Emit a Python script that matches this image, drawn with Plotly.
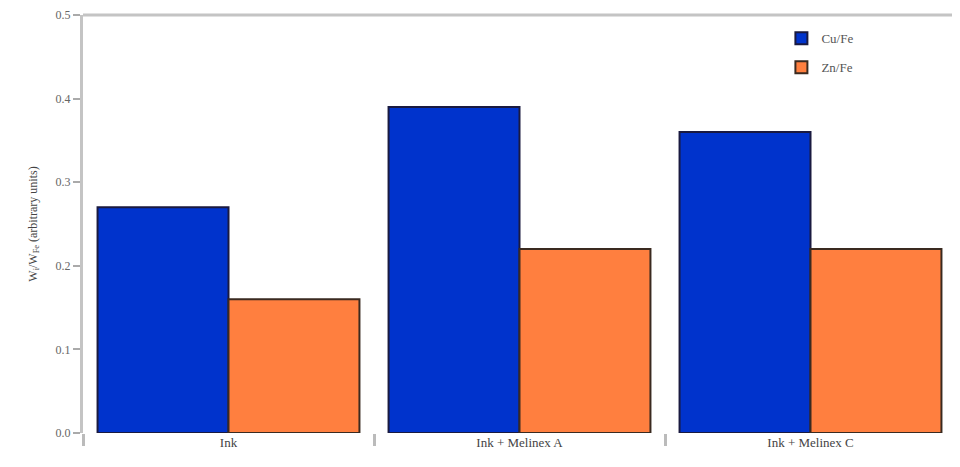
import plotly.graph_objects as go

categories = ["Ink", "Ink + Melinex A", "Ink + Melinex C"]
cu_fe = [0.27, 0.39, 0.36]
zn_fe = [0.16, 0.22, 0.22]
y_ticks = [0.0, 0.1, 0.2, 0.3, 0.4, 0.5]
y_tick_text = ["0.0", "0.1", "0.2", "0.3", "0.4", "0.5"]

font_family = "Liberation Serif, DejaVu Serif, serif"

fig = go.Figure()
fig.add_trace(go.Bar(x=categories, y=cu_fe, name="Cu/Fe", legendgroup="a",
                     marker=dict(color="#0033cc", line=dict(color="#1a1a40", width=2))))
fig.add_trace(go.Bar(x=categories, y=zn_fe, name="Zn/Fe", legendgroup="b",
                     marker=dict(color="#ff7f3f", line=dict(color="#3a2a20", width=2))))

fig.update_layout(
    width=952, height=459,
    margin=dict(l=75, r=4, t=7, b=34),
    plot_bgcolor="white", paper_bgcolor="white",
    barmode="group", bargap=0.1, bargroupgap=0.0,
    font=dict(family=font_family, color="#555555", size=11),
    legend=dict(x=0.8, y=0.98, xanchor="left", yanchor="top",
                font=dict(size=13, color="#555555"), bgcolor="rgba(0,0,0,0)",
                itemwidth=30, tracegroupgap=9),
    showlegend=True,
)
fig.update_xaxes(type="category", tickson="boundaries", ticks="outside", ticklen=12,
                 tickcolor="#bbbbbb", tickwidth=3, showline=False, showgrid=False,
                 automargin=False,
                 tickfont=dict(size=13, color="#444444"))
fig.update_yaxes(range=[0, 0.5], tickvals=y_ticks, ticktext=y_tick_text,
                 ticks="outside", ticklen=7, tickcolor="#aaaaaa", tickwidth=2,
                 showline=True, linecolor="#c4c4c4", linewidth=3, mirror=True,
                 showgrid=False, zeroline=False, automargin=False,
                 ticklabeloverflow="allow",
                 tickfont=dict(size=12, color="#666666"),
                 title=dict(text="W<sub>i</sub>/W<sub>Fe</sub> (arbitrary units)",
                            font=dict(size=12, color="#444444"), standoff=16))
fig.add_shape(type="line", xref="paper", yref="paper", x0=0, x1=1, y0=1, y1=1,
              line=dict(color="#c4c4c4", width=3))

fig.write_html("out.html")
